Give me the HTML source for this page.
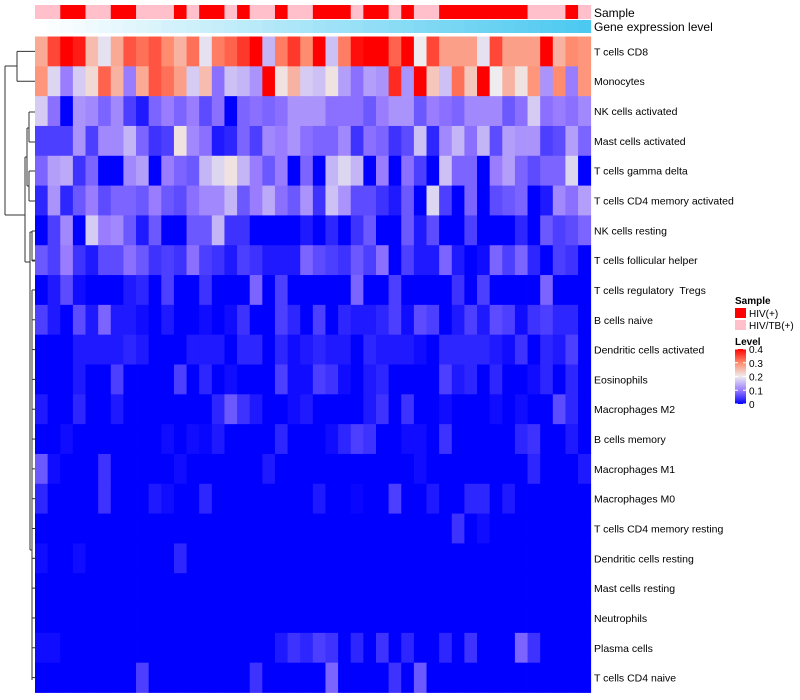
<!DOCTYPE html>
<html><head><meta charset="utf-8"><style>
html,body{margin:0;padding:0;background:#fff;width:800px;height:700px;overflow:hidden}
svg{display:block;font-family:"Liberation Sans",sans-serif}
svg text{white-space:pre}
</style></head><body>
<svg id="chart" width="800" height="700"></svg>
<script>
const cellTypes=["T cells CD8","Monocytes","NK cells activated","Mast cells activated","T cells gamma delta","T cells CD4 memory activated","NK cells resting","T cells follicular helper","T cells regulatory  Tregs","B cells naive","Dendritic cells activated","Eosinophils","Macrophages M2","B cells memory","Macrophages M1","Macrophages M0","T cells CD4 memory resting","Dendritic cells resting","Mast cells resting","Neutrophils","Plasma cells","T cells CD4 naive"];
const sampleGroups="PPRRPPRRPPPRPRRPRPPRPPRRRPRRPRPPRRRRRRRPPPRP".split("");
const geneLevel=[0,1,2,3,4,5,6,7,8,9,10,11,12,13,14,15,16,17,18,19,20,21,22,23,24,25,26,27,28,29,30,31,32,33,34,35,36,37,38,39,40,41,42,43];
const row0=[.27,.35,.4,.38,.25,.19,.27,.34,.32,.34,.3,.26,.32,.19,.31,.33,.36,.4,.15,.31,.36,.3,.4,.16,.31,.39,.4,.4,.33,.4,.2,.35,.28,.28,.28,.19,.35,.28,.28,.28,.4,.26,.3,.29];
const row1=[.29,.18,.1,.17,.22,.33,.26,.1,.27,.34,.32,.28,.17,.25,.09,.16,.15,.12,.4,.21,.26,.17,.16,.21,.13,.09,.13,.12,.37,.12,.4,.24,.16,.32,.24,.4,.2,.26,.21,.29,.12,.3,.1,.29];
const row2=[.17,.09,0,.12,.11,.08,.11,.05,.02,.08,.1,.08,.1,.06,.09,0,.08,.09,.08,.09,.12,.12,.12,.09,.09,.09,.07,.1,.12,.12,.07,.1,.09,.08,.11,.11,.11,.07,.09,.17,.09,.1,.09,.11];
const row3=[.05,.05,.05,.12,.05,.11,.11,.15,.08,.04,.05,.21,.11,.09,.02,.03,.08,.05,.11,.1,.12,.09,.08,.08,.11,.04,.09,.08,.04,.06,.16,.03,.11,.15,.09,.15,.06,.13,.12,.12,.05,.06,.13,.08];
const row4=[.08,.13,.14,.04,.08,0,0,.11,.13,0,.1,.08,.07,.15,.18,.21,.15,.1,.07,.1,0,.08,0,.15,.18,.15,0,.1,0,.09,.05,0,.16,.08,.08,0,.1,.13,.08,.06,.08,.08,.18,0];
const row5=[.03,.12,.03,.07,.1,.06,.08,.08,.07,.1,.07,.06,.09,.11,.11,.15,.07,.1,.14,.09,.07,.12,.04,.16,.12,.06,.06,.04,.02,.07,0,.18,.05,0,.08,0,.06,.07,.08,0,.02,.11,.09,.13];
const row6=[0,.05,.11,0,.17,.1,.11,.07,.02,.07,0,0,.07,.07,.15,.04,.04,0,0,0,0,.02,0,.03,0,.04,.07,0,0,.07,.02,.06,0,0,.05,0,0,0,.03,0,.07,.05,.06,.08];
const row7=[.07,.05,.1,.04,.02,.06,.06,.09,.07,.04,.05,.04,.09,.05,.04,.02,.05,.04,.02,.02,.02,.08,.06,.05,.04,.07,.05,.09,0,.05,.02,.02,.08,.02,0,.01,.08,.05,.08,.03,0,.05,.04,0];
const row8=[0,.02,.06,.01,0,0,0,.02,.03,0,.05,0,0,.04,0,0,0,.08,0,.05,0,0,0,0,0,.08,0,0,.05,0,0,0,0,.04,0,.05,0,0,0,0,.08,0,0,0];
const row9=[.05,.02,0,.06,.02,.08,.02,.02,.01,0,.02,0,0,.01,0,.01,.04,0,0,.05,.03,0,.05,0,.03,.02,.02,.03,.05,.01,.06,.05,0,.02,.05,.02,.06,.05,.01,.04,.05,.03,.03,0];
const row10=[0,0,0,.02,.02,.02,.02,.03,.02,0,0,0,.02,.02,.02,0,.03,.03,0,.03,.01,.02,.03,.02,.02,0,.03,.02,.02,.02,.01,0,.03,.03,.03,.03,.02,.01,.04,0,.03,.02,.05,0];
const row11=[0,0,0,.02,0,0,.05,0,0,0,0,.05,0,.03,0,.01,0,0,0,.05,.01,.01,.05,.04,.01,0,.02,.03,0,0,0,0,.05,.02,.03,0,.03,0,0,.01,.03,0,.03,0];
const row12=[.02,0,0,.03,0,0,.02,0,0,0,0,0,0,0,.03,.07,.04,.02,0,0,.01,.02,0,0,0,0,.02,.04,0,.04,0,0,.01,0,0,0,.01,0,.01,0,0,.06,.03,0];
const row13=[0,0,.01,0,0,0,0,0,0,0,.01,0,.01,.005,.02,0,0,0,0,.03,0,0,0,.01,.03,.05,.04,0,0,.01,.01,0,.04,0,0,0,0,0,.03,.04,0,0,.02,0];
const row14=[.07,.01,0,0,0,.04,0,0,0,0,0,.01,0,0,0,0,0,0,.02,0,0,0,0,0,0,0,0,0,0,0,.01,0,0,0,0,0,0,0,0,.03,0,0,0,.02];
const row15=[.03,0,0,0,0,.04,0,0,0,.02,.01,0,0,.03,0,0,0,0,0,0,0,0,.02,0,0,.005,0,0,.05,0,0,.02,0,0,.03,.03,0,.02,0,0,0,0,0,0];
const row16=[0,0,0,0,0,0,0,0,0,0,0,0,0,0,0,0,0,0,0,0,0,0,0,0,0,0,0,0,0,0,0,0,0,.04,0,.01,0,0,0,0,0,0,0,0];
const row17=[.01,0,0,.01,0,0,0,0,0,0,0,.03,0,0,0,0,0,0,0,0,0,0,0,0,0,0,0,0,0,0,0,0,0,0,0,0,0,0,0,0,0,0,0,0];
const row18=[0,0,0,0,0,0,0,0,0,0,0,0,0,0,0,0,0,0,0,0,0,0,0,0,0,0,0,0,0,0,0,0,0,0,0,0,0,0,0,0,0,0,0,0];
const row19=[0,0,0,0,0,0,0,0,0,0,0,0,0,0,0,0,0,0,0,0,0,0,0,0,0,0,0,0,0,0,0,0,0,0,0,0,0,0,0,0,0,0,0,0];
const row20=[.01,.01,0,0,0,0,0,0,0,0,0,0,0,0,0,0,0,0,0,.02,.04,.03,.05,.04,0,.03,0,.04,0,.03,0,0,.03,0,.04,0,0,0,.08,.04,0,0,0,0];
const row21=[0,0,0,0,0,0,0,0,.05,0,0,0,0,0,0,0,0,.04,0,0,0,0,0,.08,0,0,0,0,.04,0,.07,0,0,0,0,0,0,0,0,0,0,0,0,0];
const levels=[row0,row1,row2,row3,row4,row5,row6,row7,row8,row9,row10,row11,row12,row13,row14,row15,row16,row17,row18,row19,row20,row21];
const levelTicks=["0.4","0.3","0.2","0.1","0"];

const NS="http://www.w3.org/2000/svg",svg=document.getElementById("chart");
const X0=35,X1=590.7,Y0=36.5,Y1=692.5;
const nc=sampleGroups.length,nr=cellTypes.length,cw=(X1-X0)/nc,rh=(Y1-Y0)/nr;
const xPos=i=>X0+i*cw, yPos=r=>Y0+r*rh;
function mk(t,a,p){const e=document.createElementNS(NS,t);for(const k in a)e.setAttribute(k,a[k]);(p||svg).appendChild(e);return e;}
const stops=[[0,[0,0,255]],[0.1,[154,125,255]],[0.2,[238,236,238]],[0.3,[255,140,110]],[0.4,[255,0,0]]];
function col(v){v=Math.max(0,Math.min(0.4,v));for(let i=1;i<stops.length;i++){if(v<=stops[i][0]){const [a,ca]=stops[i-1],[b,cb]=stops[i],t=(v-a)/(b-a);return "rgb("+ca.map((c,j)=>Math.round(c+(cb[j]-c)*t)).join(",")+")";}}return "rgb(255,0,0)";}
const gMin=Math.min(...geneLevel),gMax=Math.max(...geneLevel);
function gcol(v){const t=(v-gMin)/(gMax-gMin);return "rgb("+Math.round(255+(76-255)*t)+","+Math.round(255+(201-255)*t)+","+Math.round(255+(240-255)*t)+")";}
const gS=mk("g",{});


sampleGroups.forEach((s,i)=>{const r=mk("rect",{x:xPos(i),y:5,width:cw+0.4,height:14,fill:s==="R"?"#ff0000":"#ffc0cb"},gS);

});
const gG=mk("g",{});


geneLevel.forEach((v,i)=>{const r=mk("rect",{x:xPos(i),y:20,width:cw+0.4,height:13,fill:gcol(v)},gG);

});
const t1=mk("text",{x:594,y:17,"font-size":12,fill:"#000"});t1.textContent="Sample";


const t2=mk("text",{x:594,y:31,"font-size":12,fill:"#000"});t2.textContent="Gene expression level";


const gH=mk("g",{});


levels.forEach((row,r)=>row.forEach((v,c)=>{const e=mk("rect",{x:xPos(c),y:yPos(r),width:cw+0.4,height:rh+0.4,fill:col(v)},gH);

}));
cellTypes.forEach((n,r)=>{const t=mk("text",{x:594,y:yPos(r)+rh/2+4,"font-size":10.5,fill:"#000"});t.textContent=n;

});
const dg=mk("g",{stroke:"#333","stroke-width":1,fill:"none"});


const cy=r=>yPos(r)+rh/2;
const segs=[[5,66,5,215],[5,66,17,66],[17,cy(0),17,cy(1)],[17,cy(0),35,cy(0)],[17,cy(1),35,cy(1)],[5,215,25,215],[25,157,25,262],
[25,157,27,157],[27,128,27,186],[27,128,29,128],[29,112,29,142],[29,112,35,112],[29,142,35,142],[27,186,29,186],[29,171,29,201],[29,171,35,171],[29,201,35,201],
[25,262,30,262],[30,232,30,550],[30,232,32,232],[32,231,32,261],[32,231,35,231],[32,261,35,261],[30,550,32,550],[32,290,32,680]];
segs.forEach(s=>mk("line",{x1:s[0],y1:s[1],x2:s[2],y2:s[3]},dg));
for(let r=7;r<nr;r++)mk("line",{x1:32,y1:cy(r),x2:35,y2:cy(r)},dg);
const lg=mk("g",{});


const lt=mk("text",{x:735,y:304,"font-size":10,"font-weight":"bold"},lg);lt.textContent="Sample";
mk("rect",{x:735,y:308,width:11,height:10,fill:"#ff0000"},lg);
mk("rect",{x:735,y:320,width:11,height:10,fill:"#ffc0cb"},lg);
const l1=mk("text",{x:749,y:317,"font-size":10},lg);l1.textContent="HIV(+)";


const l2=mk("text",{x:749,y:329,"font-size":10},lg);l2.textContent="HIV/TB(+)";


const lv=mk("text",{x:735,y:345,"font-size":10,"font-weight":"bold"},lg);lv.textContent="Level";
const defs=mk("defs",{});const gr=mk("linearGradient",{id:"lvg",x1:0,y1:1,x2:0,y2:0},defs);
[0,.1,.2,.3,.4].forEach(v=>mk("stop",{offset:v/0.4,"stop-color":col(v)},gr));
mk("rect",{x:735,y:349,width:11,height:55,fill:"url(#lvg)"},lg);
levelTicks.forEach((s,i)=>{const y=349+i*55/4;mk("line",{x1:735,x2:738,y1:y,y2:y,stroke:"#fff"},lg);mk("line",{x1:743,x2:746,y1:y,y2:y,stroke:"#fff"},lg);
const t=mk("text",{x:749,y:y+4,"font-size":10},lg);t.textContent=s;

});
</script>
</body></html>
